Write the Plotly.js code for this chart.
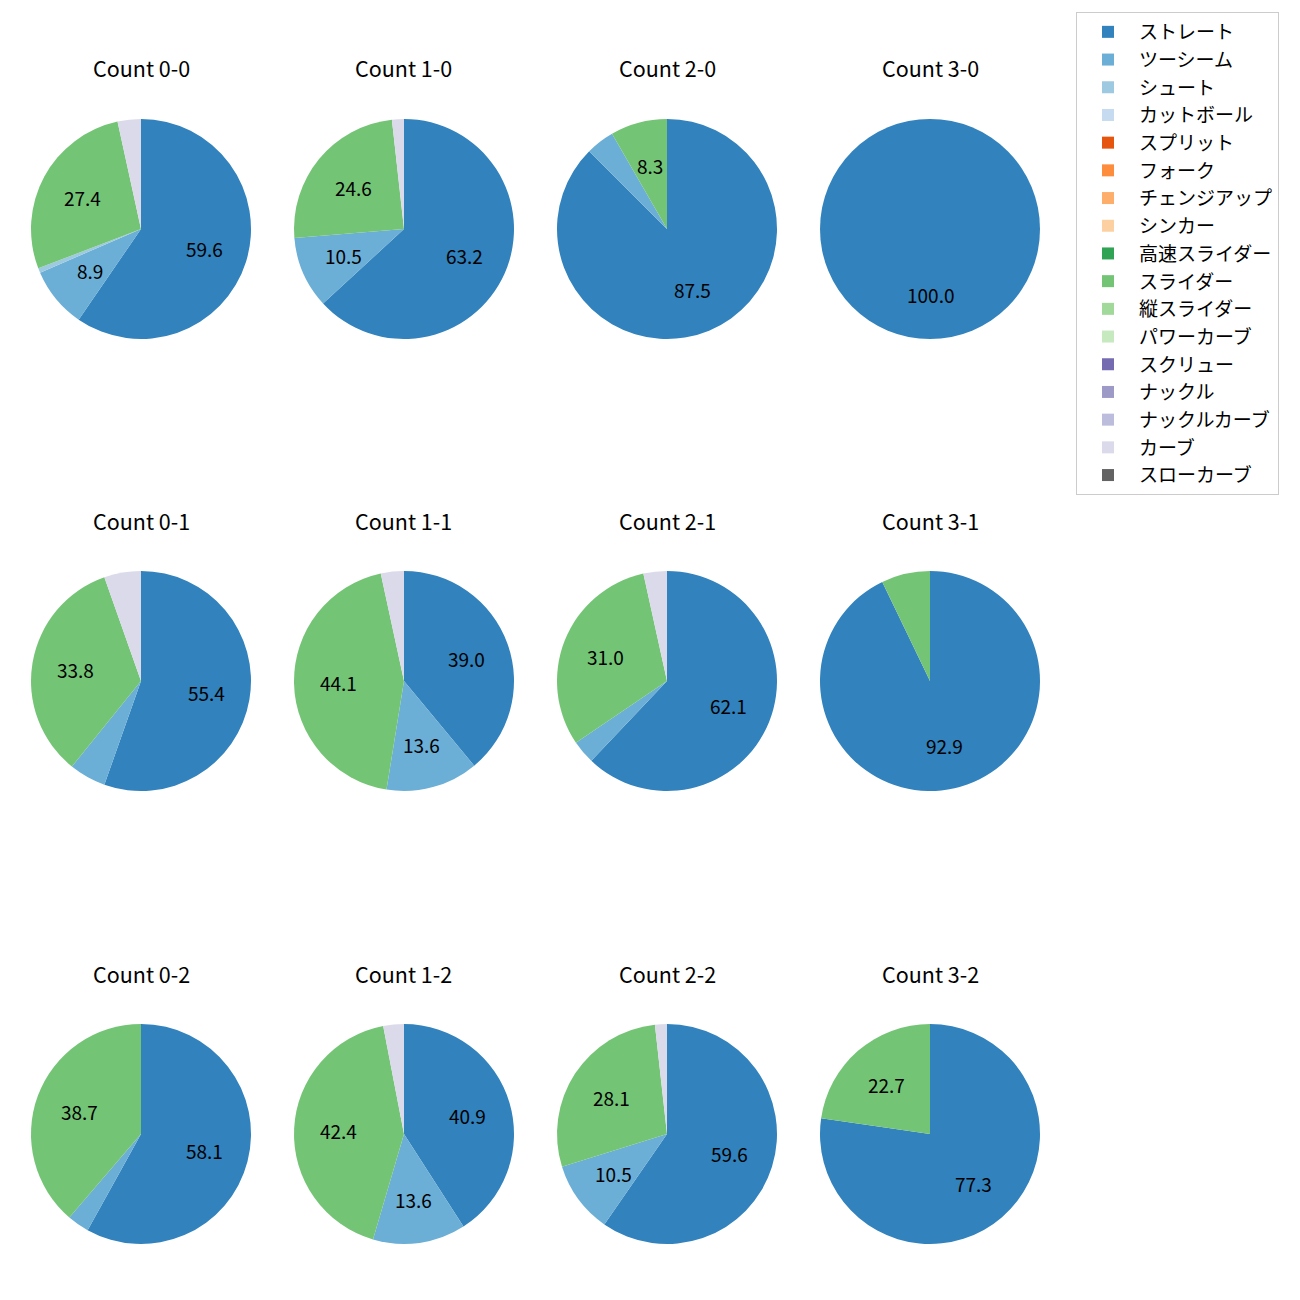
<!DOCTYPE html>
<html>
<head>
<meta charset="utf-8">
<script src="https://cdn.plot.ly/plotly-3.0.1.min.js"></script>
<style>html,body{margin:0;padding:0;background:#fff;}</style>
</head>
<body>
<div id="chart" style="width:1300px;height:1300px;"></div>
<script>
const pitchTypes = ["ストレート","ツーシーム","シュート","カットボール","スプリット","フォーク","チェンジアップ","シンカー","高速スライダー","スライダー","縦スライダー","パワーカーブ","スクリュー","ナックル","ナックルカーブ","カーブ","スローカーブ"];
const pitchColors = ["#3182bd","#6baed6","#9ecae1","#c6dbef","#e6550d","#fd8d3c","#fdae6b","#fdd0a2","#31a354","#74c476","#a1d99b","#c7e9c0","#756bb1","#9e9ac8","#bcbddc","#dadaeb","#636363"];

const countTitles = ["Count 0-0","Count 1-0","Count 2-0","Count 3-0",
                     "Count 0-1","Count 1-1","Count 2-1","Count 3-1",
                     "Count 0-2","Count 1-2","Count 2-2","Count 3-2"];

// pitch counts per count situation, in pitchTypes order
const c00 = [87,13,1,0,0,0,0,0,0,40,0,0,0,0,0,5,0];
const c10 = [36,6,0,0,0,0,0,0,0,14,0,0,0,0,0,1,0];
const c20 = [21,1,0,0,0,0,0,0,0,2,0,0,0,0,0,0,0];
const c30 = [10,0,0,0,0,0,0,0,0,0,0,0,0,0,0,0,0];
const c01 = [41,4,0,0,0,0,0,0,0,25,0,0,0,0,0,4,0];
const c11 = [23,8,0,0,0,0,0,0,0,26,0,0,0,0,0,2,0];
const c21 = [18,1,0,0,0,0,0,0,0,9,0,0,0,0,0,1,0];
const c31 = [13,0,0,0,0,0,0,0,0,1,0,0,0,0,0,0,0];
const c02 = [18,1,0,0,0,0,0,0,0,12,0,0,0,0,0,0,0];
const c12 = [27,9,0,0,0,0,0,0,0,28,0,0,0,0,0,2,0];
const c22 = [34,6,0,0,0,0,0,0,0,16,0,0,0,0,0,1,0];
const c32 = [17,0,0,0,0,0,0,0,0,5,0,0,0,0,0,0,0];
const countValues = [c00,c10,c20,c30,c01,c11,c21,c31,c02,c12,c22,c32];

const W = 1300, H = 1300;
const colCenters = [141, 404, 667, 930];
const rowCenters = [229, 681, 1134];
const R = 110;
const titleOffset = 161;
const FONT = "Noto Sans CJK JP, Noto Sans, sans-serif";

const traces = [];
const annotations = [];
countValues.forEach((vals, i) => {
  const cx = colCenters[i % 4], cy = rowCenters[Math.floor(i / 4)];
  traces.push({
    type: "pie",
    labels: pitchTypes,
    values: vals,
    marker: {colors: pitchColors, line: {width: 0}},
    sort: false,
    direction: "clockwise",
    rotation: 0,
    textinfo: "none",
    hoverinfo: "label+percent",
    showlegend: i === 0,
    domain: {x: [(cx - R) / W, (cx + R) / W], y: [1 - (cy + R) / H, 1 - (cy - R) / H]}
  });
  annotations.push({
    text: countTitles[i], x: cx / W, y: 1 - (cy - titleOffset) / H,
    xref: "paper", yref: "paper", showarrow: false, xanchor: "center", yanchor: "middle",
    font: {family: FONT, size: 21.5, color: "#000"}
  });
  const total = vals.reduce((a, b) => a + b, 0);
  let cum = 0;
  vals.forEach(v => {
    if (v <= 0) return;
    const pct = v / total * 100;
    const mid = (cum + v / 2) / total * 2 * Math.PI;
    cum += v;
    if (pct < 8) return;
    const px = cx + 0.6 * R * Math.sin(mid);
    const py = cy - 0.6 * R * Math.cos(mid);
    annotations.push({
      text: pct.toFixed(1), x: px / W, y: 1 - py / H,
      xref: "paper", yref: "paper", showarrow: false, xanchor: "center", yanchor: "middle",
      font: {family: FONT, size: 19, color: "#000"}
    });
  });
});

const layout = {
  width: W, height: H,
  margin: {l: 0, r: 0, t: 0, b: 0},
  paper_bgcolor: "#fff",
  font: {family: FONT, size: 19, color: "#000"},
  showlegend: true,
  legend: {
    x: 1076 / W, y: 1 - 12 / H, xanchor: "left", yanchor: "top",
    bgcolor: "#fff", bordercolor: "#cccccc", borderwidth: 1,
    font: {family: FONT, size: 19, color: "#000"},
    itemwidth: 52,
    traceorder: "normal"
  },
  annotations: annotations
};

Plotly.newPlot("chart", traces, layout, {displayModeBar: false, staticPlot: true});
</script>
</body>
</html>
